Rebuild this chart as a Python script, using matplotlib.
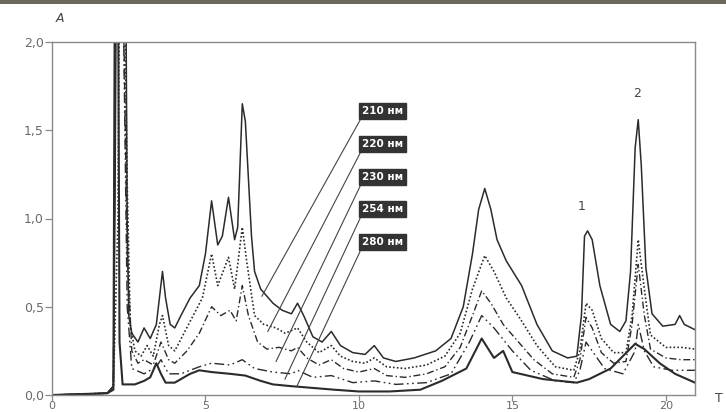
import matplotlib
matplotlib.use("Agg")
import matplotlib.pyplot as plt
from matplotlib.patches import Rectangle

# ---------------- data ----------------
t210 = [0.0, 1.0, 1.8, 2.0, 2.05, 2.1, 2.4, 2.45, 2.5, 2.6, 2.8, 3.0, 3.2, 3.4, 3.5, 3.6, 3.7, 3.85,
        4.0, 4.2, 4.5, 4.8, 5.0, 5.2, 5.4, 5.55, 5.75, 5.95, 6.05, 6.2, 6.3, 6.5, 6.6, 6.8, 7.0,
        7.2, 7.5, 7.8, 8.0, 8.2, 8.5, 8.8, 9.1, 9.4, 9.8, 10.2, 10.5, 10.8, 11.2, 11.8, 12.5, 13.0,
        13.4, 13.7, 13.9, 14.1, 14.3, 14.5, 14.8, 15.3, 15.8, 16.3, 16.8, 17.1, 17.25, 17.35,
        17.45, 17.6, 17.85, 18.2, 18.5, 18.7, 18.85, 19.0, 19.1, 19.2, 19.35, 19.55, 19.9, 20.3,
        20.45, 20.6, 20.95]
a210 = [0.0, 0.005, 0.01, 0.05, 1.0, 2.5, 2.5, 1.0, 0.45, 0.35, 0.30, 0.38, 0.32, 0.40, 0.55, 0.70,
        0.55, 0.40, 0.38, 0.45, 0.55, 0.62, 0.80, 1.10, 0.85, 0.90, 1.12, 0.88, 0.95, 1.65, 1.55,
        0.90, 0.70, 0.60, 0.56, 0.52, 0.48, 0.46, 0.52, 0.45, 0.33, 0.30, 0.36, 0.28, 0.24, 0.23,
        0.28, 0.21, 0.19, 0.21, 0.25, 0.32, 0.50, 0.80, 1.05, 1.17, 1.05, 0.88, 0.76, 0.62, 0.40,
        0.25, 0.21, 0.22, 0.45, 0.90, 0.93, 0.88, 0.62, 0.40, 0.36, 0.42, 0.70, 1.40, 1.56, 1.30,
        0.72, 0.46, 0.39, 0.40, 0.45, 0.40, 0.37]

t220 = [0.0, 1.8, 2.0, 2.15, 2.2, 2.35, 2.45, 2.55, 2.7, 2.9, 3.1, 3.3, 3.5, 3.6, 3.8, 4.0, 4.3,
        4.6, 4.9, 5.2, 5.4, 5.75, 5.95, 6.2, 6.35, 6.6, 6.9, 7.3, 7.6, 8.0, 8.3, 8.7, 9.1, 9.4,
        9.8, 10.2, 10.5, 10.9, 11.5, 12.2, 12.8, 13.3, 13.7, 14.1, 14.4, 14.8, 15.3, 15.8, 16.4,
        17.0, 17.2, 17.4, 17.6, 17.9, 18.3, 18.7, 18.9, 19.1, 19.3, 19.5, 20.0, 20.5, 20.95]
a220 = [0.0, 0.01, 0.05, 1.0, 2.5, 2.5, 1.2, 0.40, 0.25, 0.22, 0.28, 0.22, 0.40, 0.45, 0.28, 0.25,
        0.35, 0.45, 0.55, 0.80, 0.62, 0.78, 0.60, 0.95, 0.75, 0.45, 0.40, 0.38, 0.35, 0.38, 0.30,
        0.24, 0.28, 0.22, 0.19, 0.18, 0.21, 0.16, 0.15, 0.17, 0.22, 0.35, 0.60, 0.79, 0.70, 0.55,
        0.42, 0.28, 0.16, 0.14, 0.25, 0.52, 0.48, 0.32, 0.24, 0.24, 0.45, 0.88, 0.60, 0.34, 0.27,
        0.27, 0.26]

t230 = [0.0, 1.8, 2.0, 2.08, 2.3, 2.45, 2.6, 2.8, 3.0, 3.3, 3.55, 3.8, 4.0, 4.4, 4.8, 5.2, 5.5,
        5.8, 6.0, 6.2, 6.4, 6.7, 7.0, 7.4, 7.8, 8.0, 8.3, 8.7, 9.1, 9.5, 10.0, 10.5, 10.9, 11.5,
        12.2, 12.8, 13.3, 13.7, 14.0, 14.3, 14.7, 15.2, 15.7, 16.3, 17.0, 17.2, 17.4, 17.6, 17.9,
        18.3, 18.7, 18.9, 19.1, 19.3, 19.5, 20.0, 20.5, 20.95]
a230 = [0.0, 0.01, 0.05, 2.5, 2.5, 0.8, 0.25, 0.18, 0.20, 0.17, 0.30, 0.20, 0.18, 0.25, 0.35, 0.50,
        0.45, 0.48, 0.42, 0.62, 0.45, 0.30, 0.26, 0.27, 0.25, 0.27, 0.21, 0.17, 0.20, 0.15, 0.13,
        0.15, 0.11, 0.10, 0.12, 0.16, 0.27, 0.45, 0.59, 0.52, 0.40, 0.30, 0.20, 0.12, 0.10, 0.20,
        0.44, 0.38, 0.24, 0.18, 0.19, 0.40, 0.74, 0.45, 0.26, 0.21, 0.20, 0.20]

t254 = [0.0, 1.8, 2.0, 2.08, 2.3, 2.45, 2.6, 3.0, 3.4, 3.55, 3.8, 4.2, 4.8, 5.2, 5.8, 6.2, 6.6,
        7.2, 7.8, 8.0, 8.5, 9.1, 9.8, 10.5, 11.2, 12.2, 13.0, 13.6, 14.0, 14.4, 15.0, 15.6, 16.4,
        17.0, 17.2, 17.4, 17.6, 18.0, 18.6, 19.0, 19.1, 19.3, 19.6, 20.2, 20.95]
a254 = [0.0, 0.01, 0.05, 2.5, 2.5, 0.5, 0.15, 0.12, 0.16, 0.20, 0.12, 0.12, 0.16, 0.18, 0.17,
        0.20, 0.15, 0.13, 0.12, 0.14, 0.10, 0.11, 0.07, 0.08, 0.06, 0.07, 0.12, 0.30, 0.45, 0.38,
        0.25, 0.14, 0.08, 0.07, 0.14, 0.30, 0.25, 0.15, 0.12, 0.25, 0.40, 0.25, 0.16, 0.14, 0.14]

t280 = [0.0, 1.8, 2.0, 2.05, 2.15, 2.2, 2.3, 2.7, 3.0, 3.2, 3.4, 3.55, 3.7, 4.0, 4.5, 4.8, 5.2,
        5.8, 6.3, 6.8, 7.2, 7.8, 8.5, 9.2, 10.0, 11.0, 12.0, 12.7, 13.5, 14.0, 14.4, 14.7, 15.0,
        16.0, 17.1, 17.5, 18.2, 18.6, 19.0, 19.3, 19.8, 20.3, 20.95]
a280 = [0.0, 0.01, 0.03, 2.5, 2.5, 0.3, 0.06, 0.06, 0.08, 0.10, 0.18, 0.12, 0.07, 0.07, 0.12,
        0.14, 0.13, 0.12, 0.11, 0.08, 0.06, 0.05, 0.04, 0.03, 0.02, 0.02, 0.03, 0.08, 0.15, 0.32,
        0.21, 0.25, 0.13, 0.09, 0.07, 0.09, 0.15, 0.22, 0.29, 0.26, 0.18, 0.12, 0.07]

series_labels = ["210 нм", "220 нм", "230 нм", "254 нм", "280 нм"]
# where each leader line touches its curve (t, A)
leader_targets = [(6.84, 0.56), (7.03, 0.36), (7.30, 0.19), (7.59, 0.09), (7.98, 0.05)]

peak_names = ["1", "2"]
peak_pos = [(17.25, 1.03), (19.05, 1.67)]

yticks = [0.0, 0.5, 1.0, 1.5, 2.0]
ytick_labels = ["0,0", "0,5", "1,0", "1,5", "2,0"]
xticks = [0, 5, 10, 15, 20]
xtick_labels = ["0", "5", "10", "15", "20"]

# ---------------- drawing ----------------
W, H = 726, 412
fig = plt.figure(figsize=(W / 100, H / 100), dpi=100)
fig.patch.set_facecolor("white")
ax = fig.add_axes([52 / W, 1 - 395 / H, (695 - 52) / W, (395 - 42) / H])

ink = "#2b2b2b"
styles = [
    dict(ls="-", lw=1.1),
    dict(ls=(0, (1, 1.3)), lw=1.2),
    dict(ls=(0, (5, 2, 1, 2)), lw=1.0),
    dict(ls=(0, (7, 2.5, 1.2, 2.5, 1.2, 2.5)), lw=1.0),
    dict(ls="-", lw=1.5),
]
for (tt, aa), st in zip([(t210, a210), (t220, a220), (t230, a230), (t254, a254), (t280, a280)], styles):
    ax.plot(tt, aa, color=ink, **st)

ax.set_xlim(0, 20.95)
ax.set_ylim(0, 2.0)
for s in ax.spines.values():
    s.set_color("#8a8a8a")
    s.set_linewidth(1.0)
ax.set_yticks(yticks)
ax.set_yticklabels(ytick_labels)
ax.set_xticks(xticks)
ax.set_xticklabels(xtick_labels)
ax.tick_params(axis="y", direction="out", length=5, width=0.9, color="#8a8a8a",
               labelcolor="#6a6a6a", labelsize=9, pad=1)
ax.tick_params(axis="x", direction="out", length=4, width=0.9, color="#8a8a8a",
               labelcolor="#6a6a6a", labelsize=8, pad=0.5)

# label boxes + leader lines
box_tops_px = [102, 135, 168, 200, 233]
for lab, (tx, ay), top in zip(series_labels, leader_targets, box_tops_px):
    yc = top + 9
    fig.text(362 / W, 1 - yc / H, lab, color="white", fontsize=7.5, fontweight="bold",
             ha="left", va="center",
             bbox=dict(boxstyle="square,pad=0.25", fc="#333333", ec="#333333"))
    x0 = (360 - 52) / (695 - 52) * 20.95
    y0 = (394 - (top + 18)) / 176.0
    ax.plot([x0, tx], [y0, ay], color="#444444", lw=0.8, clip_on=False)

for name, (px, py) in zip(peak_names, peak_pos):
    ax.text(px, py, name, color="#444444", fontsize=9, ha="center", va="bottom")

fig.text(60 / W, 1 - 18 / H, "A", fontsize=9, style="italic", color="#444444", ha="center", va="center")
fig.text(719 / W, 1 - 398 / H, "T", fontsize=9, color="#444444", ha="center", va="center")

# dark scan edge at the top
fig.patches.append(Rectangle((0, 1 - 4 / H), 1, 4 / H, transform=fig.transFigure,
                             fc="#6e685c", ec="none"))

fig.savefig("out.png", dpi=100)
